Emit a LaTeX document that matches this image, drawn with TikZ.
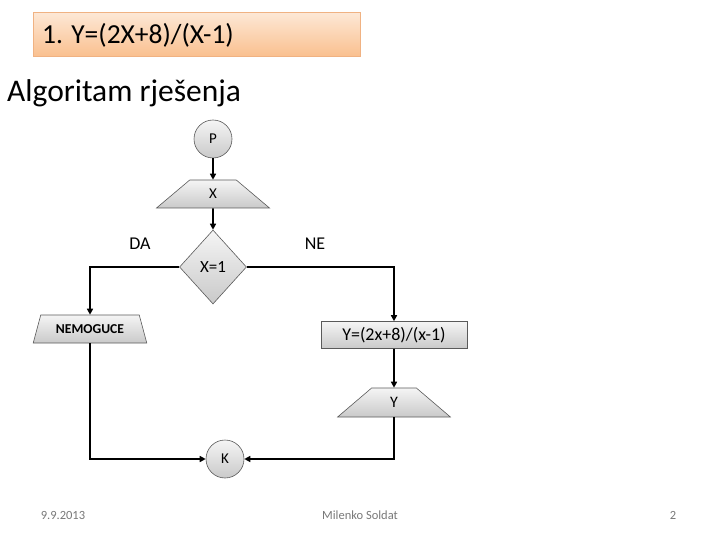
\documentclass[tikz,border=0pt]{standalone}
\usepackage{fontspec}
\setmainfont{Carlito}
\usetikzlibrary{shapes.geometric,arrows.meta}
\definecolor{titletop}{RGB}{253,232,214}
\definecolor{titlebot}{RGB}{250,192,143}
\definecolor{titleborder}{RGB}{240,178,130}
\definecolor{shapeborder}{RGB}{90,90,90}
\definecolor{foot}{RGB}{120,120,120}
\tikzset{
  gfill/.style={draw=shapeborder, line width=0.6pt, top color=gray!8, bottom color=gray!42},
  startend/.style={gfill, circle, minimum size=38pt, inner sep=0pt, font=\fontsize{15}{17}\selectfont},
  iobox/.style={gfill, trapezium, trapezium angle=60, trapezium stretches=true, minimum height=28pt, inner sep=0pt, font=\fontsize{15}{17}\selectfont},
  procbox/.style={gfill, rectangle, minimum width=146pt, minimum height=27pt, inner sep=0pt, font=\fontsize{18}{20}\selectfont},
  decbox/.style={gfill, diamond, minimum width=67pt, minimum height=74pt, inner sep=0pt, font=\fontsize{17}{19}\selectfont},
  conn/.style={line width=1.7pt, -{Triangle[length=6pt,width=6pt]}},
  lbl/.style={font=\fontsize{18}{20}\selectfont},
  footlbl/.style={text=foot, font=\fontsize{12.5}{14}\selectfont}
}
\begin{document}
\begin{tikzpicture}[x=1pt,y=-1pt]
\useasboundingbox (0,0) rectangle (720,540);
% title
\node[draw=titleborder, line width=0.6pt, top color=titletop, bottom color=titlebot,
      minimum width=327pt, minimum height=44pt, inner sep=0pt, anchor=north west] (title) at (33,12) {};
\node[anchor=west, font=\fontsize{27.5}{30}\selectfont, inner sep=0pt] (titletext) at (42,35) {1. Y=(2X+8)/(X-1)};
\node[anchor=west, font=\fontsize{31.5}{34}\selectfont, inner sep=0pt] (heading) at (7,93) {Algoritam rješenja};
% flowchart
\node[startend] (P) at (213,139) {P};
\node[iobox, minimum width=113pt] (X) at (213,194) {X};
\node[decbox] (D) at (213,267) {X=1};
\node[iobox, minimum width=114pt, font=\fontsize{13.6}{15}\selectfont\bfseries] (N) at (90,329) {NEMOGUCE};
\node[procbox] (R) at (394,335) {Y=(2x+8)/(x-1)};
\node[iobox, minimum width=113pt, minimum height=29pt, font=\fontsize{16}{18}\selectfont] (Y) at (394,402.5) {Y};
\node[startend] (K) at (225,459) {K};
\node[lbl] (da) at (140,244) {DA};
\node[lbl] (ne) at (315,244) {NE};
\draw[conn] (P) -- (X);
\draw[conn] (X) -- (D);
\draw[conn] (D.west) -| (N.north);
\draw[conn] (D.east) -| (R.north);
\draw[conn] (R) -- (Y);
\draw[conn] (N.south) |- (K.west);
\draw[conn] (Y.south) |- (K.east);
% footer
\node[footlbl] (date) at (63,515) {9.9.2013};
\node[footlbl] (author) at (360,515) {Milenko Soldat};
\node[footlbl] (page) at (673,515) {2};
\end{tikzpicture}
\end{document}
